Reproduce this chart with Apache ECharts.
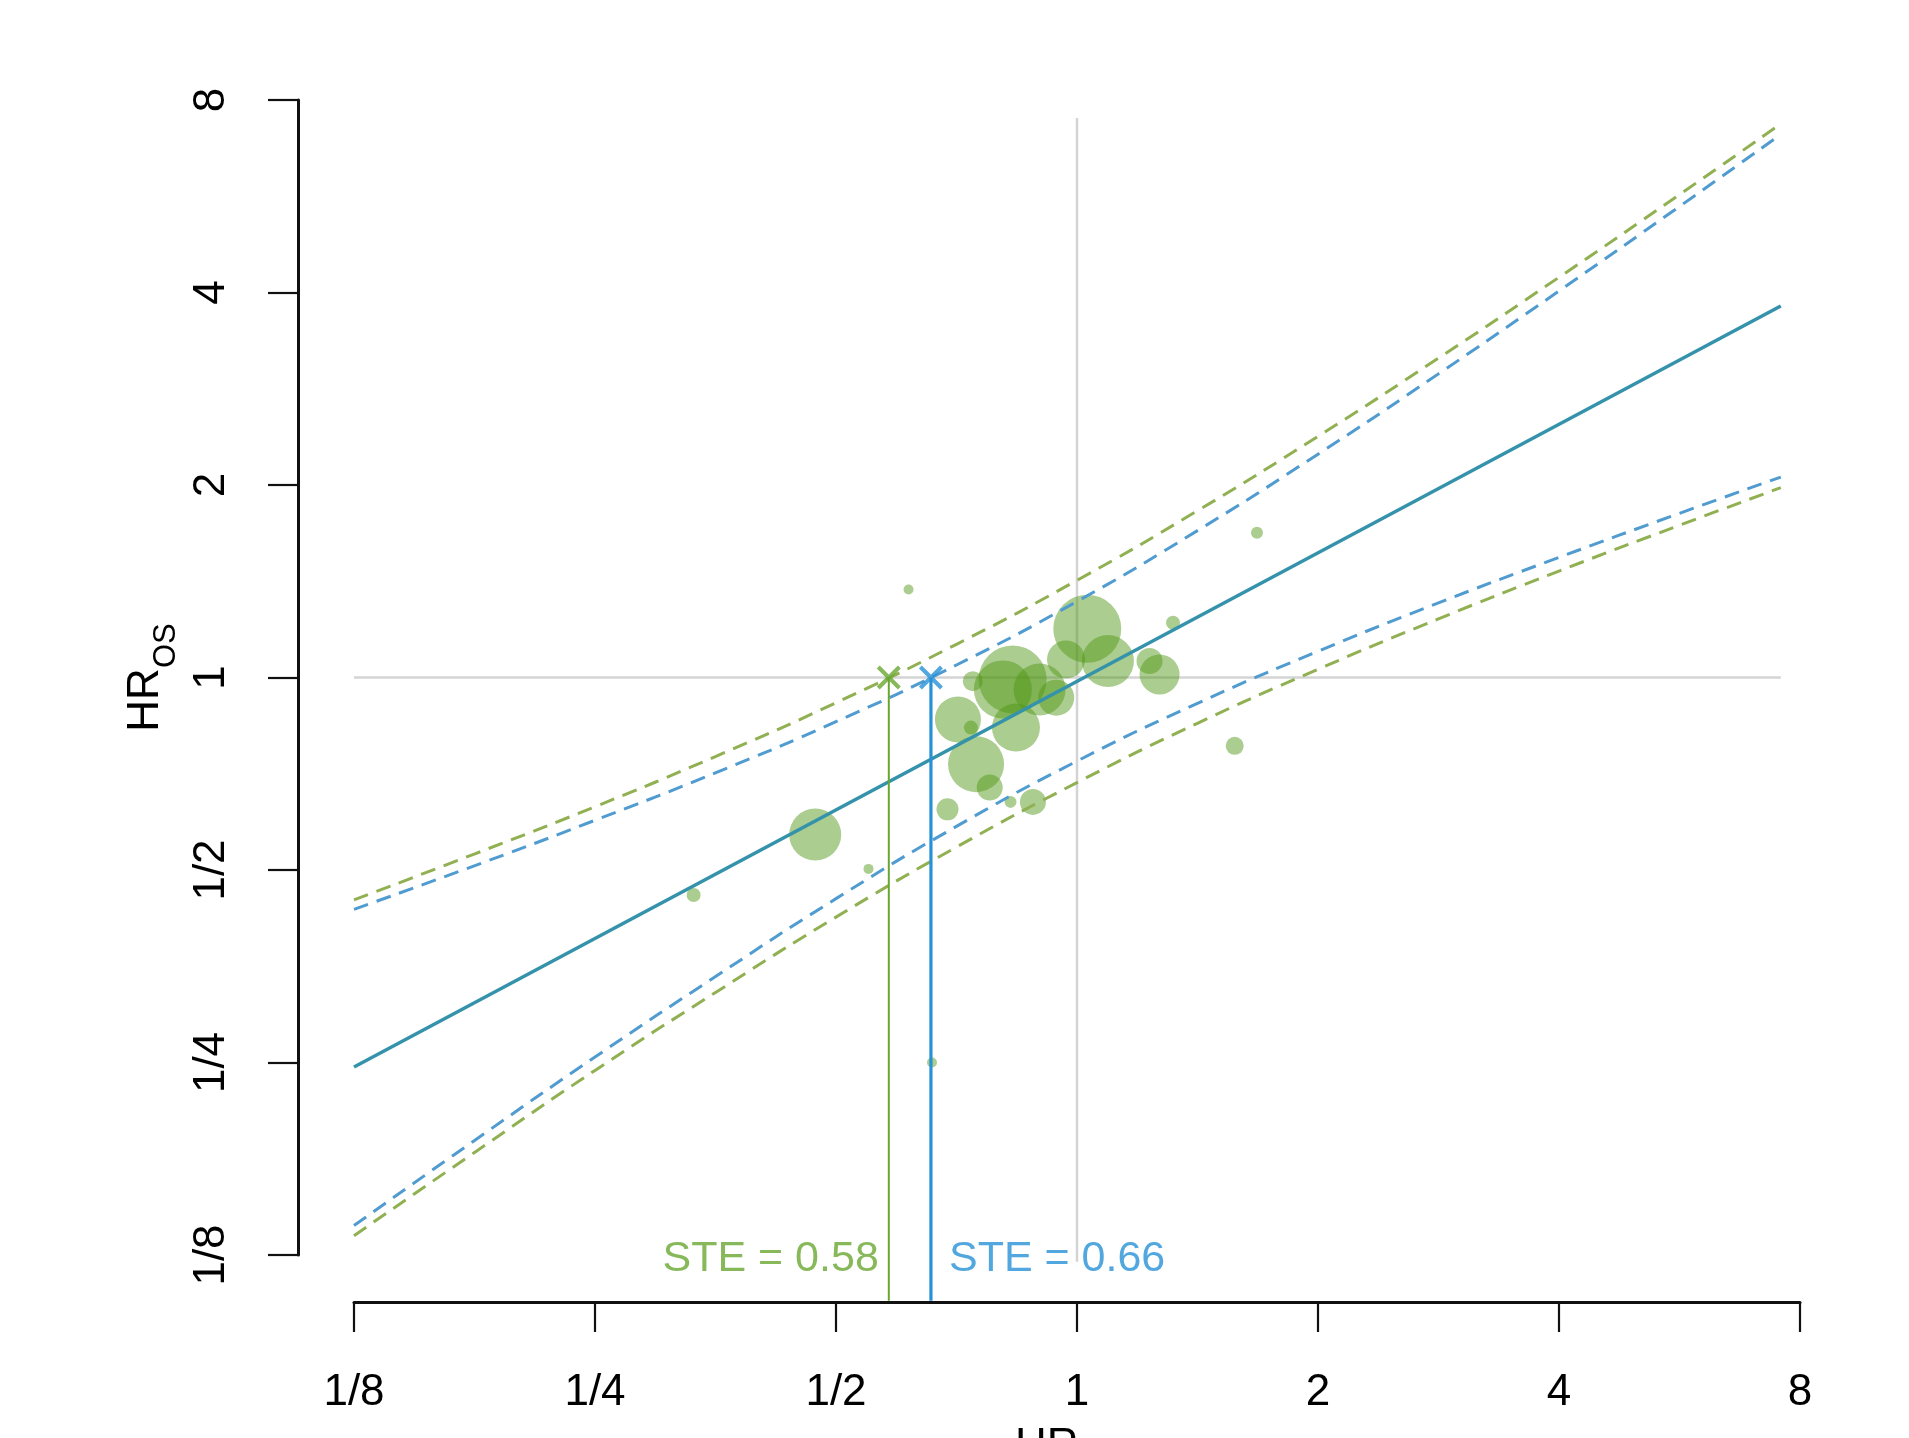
<!DOCTYPE html>
<html><head><meta charset="utf-8">
<script src="https://cdn.jsdelivr.net/npm/echarts@6/dist/echarts.min.js"></script>
<style>html,body{margin:0;padding:0;background:#fff}#c{width:1909px;height:1438px}</style>
</head><body><div id="c"></div>
<script>
// ---- data ----
const tickValues = [0.125, 0.25, 0.5, 1, 2, 4, 8];
const tickLabels = ['1/8', '1/4', '1/2', '1', '2', '4', '8'];

// individual studies (HR_PFS, HR_OS, relative weight ~ bubble radius)
const studyHRPFS = [0.616, 1.030, 1.093, 0.831, 0.808, 0.898, 0.942, 0.969, 0.839, 0.710, 0.737, 0.748, 0.778, 0.689, 0.826, 0.881, 0.741, 1.232, 1.268, 1.318, 0.471, 0.549, 1.678, 1.574, 0.659, 0.332];
const studyHROS  = [1.373, 1.192, 1.061, 0.993, 0.958, 0.958, 0.930, 1.067, 0.835, 0.860, 0.835, 0.732, 0.673, 0.622, 0.639, 0.639, 0.987, 1.061, 1.011, 1.218, 0.568, 0.502, 1.684, 0.782, 0.250, 0.457];
const studyWeight = [5, 34, 26, 34, 29, 26, 18, 19, 24, 23, 7, 28, 13, 11, 6, 13, 10, 13, 20, 7, 26, 5, 6, 9, 5, 7];

// regression line
const fitX = [0.125, 7.57];
const fitY = [0.246, 3.81];

// prediction bands
const bandX = [0.125, 0.177, 0.25, 0.354, 0.5, 0.707, 1, 1.414, 2, 2.828, 4, 5.657, 7.57];
const blueUpper  = [0.434, 0.508, 0.598, 0.710, 0.853, 1.046, 1.315, 1.697, 2.235, 2.984, 4.022, 5.453, 7.067];
const blueLower  = [0.139, 0.189, 0.255, 0.341, 0.451, 0.585, 0.740, 0.911, 1.099, 1.308, 1.541, 1.806, 2.058];
const greenUpper = [0.449, 0.530, 0.628, 0.753, 0.913, 1.127, 1.419, 1.823, 2.383, 3.158, 4.225, 5.692, 7.342];
const greenLower = [0.134, 0.181, 0.243, 0.322, 0.422, 0.543, 0.685, 0.848, 1.030, 1.235, 1.467, 1.730, 1.981];

// surrogate threshold effects
const steX = [0.582, 0.657];
const steLabels = ['STE = 0.58', 'STE = 0.66'];
const steLabelY = 0.123;
const steBottomY = 0.106;

// reference lines at HR = 1
const refXRange = [0.125, 7.57];
const refYRange = [0.122, 7.5];

// ---- chart ----
const FONT = 'Liberation Sans';
const GREEN = '#69a631', BLUE = '#2791d7';
const GREEN_DASH = '#90b052', BLUE_DASH = '#509bd0';

function fmt(v) {
  const i = tickValues.findIndex(t => Math.abs(Math.log2(t) - Math.log2(v)) < 1e-6);
  return i >= 0 ? tickLabels[i] : '';
}
const pairs = (xs, ys) => xs.map((x, i) => [x, ys[i]]);
const dashed = (ys, color) => ({
  type: 'line', data: pairs(bandX, ys), smooth: true, symbol: 'none', clip: false, z: 4,
  lineStyle: { color: color, width: 3, type: [15, 9] }
});
const xMark = 'path://M0,1.2 L1.2,0 L10,8.8 L8.8,10 Z M8.8,0 L10,1.2 L1.2,10 L0,8.8 Z';
const nameRich = {
  h: { fontSize: 44, lineHeight: 58, verticalAlign: 'top', fontFamily: FONT, color: '#000' },
  s: { fontSize: 31, lineHeight: 58, verticalAlign: 'bottom', fontFamily: FONT, color: '#000' }
};

const chart = echarts.init(document.getElementById('c'), null, { renderer: 'canvas' });
chart.setOption({
  animation: false,
  backgroundColor: '#fff',
  grid: { left: 354, right: 109, top: 100, bottom: 183, containLabel: false, outerBoundsMode: 'none' },
  xAxis: {
    type: 'log', logBase: 2, min: 0.125, max: 8, interval: 1, splitNumber: 6,
    offset: 47,
    axisLine: { show: true, lineStyle: { color: '#111', width: 3 } },
    axisTick: { show: true, length: 30, lineStyle: { color: '#111', width: 2.2 } },
    splitLine: { show: false },
    axisLabel: { formatter: fmt, fontFamily: FONT, fontSize: 44, color: '#000', margin: 69 },
    name: '{h|HR}{s|PFS}', nameLocation: 'middle', nameGap: 123,
    nameTextStyle: { color: '#000', fontFamily: FONT, rich: nameRich }
  },
  yAxis: {
    type: 'log', logBase: 2, min: 0.125, max: 8, interval: 1, splitNumber: 6,
    offset: 56,
    axisLine: { show: true, lineStyle: { color: '#111', width: 3 } },
    axisTick: { show: true, length: 30, lineStyle: { color: '#111', width: 2.2 } },
    splitLine: { show: false },
    axisLabel: { formatter: fmt, fontFamily: FONT, fontSize: 44, color: '#000', margin: 64, rotate: 90 },
    name: '{h|HR}{s|OS}', nameLocation: 'middle', nameGap: 106, nameRotate: 90,
    nameTextStyle: { color: '#000', fontFamily: FONT, rich: nameRich }
  },
  series: [
    { type: 'line', data: [[1, refYRange[0]], [1, refYRange[1]]], symbol: 'none', clip: false, z: 1,
      lineStyle: { color: '#d4d4d4', width: 2.5 } },
    { type: 'line', data: [[refXRange[0], 1], [refXRange[1], 1]], symbol: 'none', clip: false, z: 1,
      lineStyle: { color: '#d4d4d4', width: 2.5 } },
    { type: 'scatter', data: studyHRPFS.map((x, i) => [x, studyHROS[i], studyWeight[i]]),
      symbolSize: d => 2 * d[2], clip: false, z: 2,
      itemStyle: { color: 'rgba(80,150,20,0.6)', borderWidth: 0 } },
    dashed(greenUpper, GREEN_DASH),
    dashed(blueUpper, BLUE_DASH),
    dashed(blueLower, BLUE_DASH),
    dashed(greenLower, GREEN_DASH),
    { type: 'line', data: pairs(fitX, fitY), symbol: 'none', clip: false, z: 5,
      lineStyle: { color: '#3592ab', width: 3.5 } },
    { type: 'line', data: [[steX[0], 1], [steX[0], steBottomY]], symbol: 'none', clip: false, z: 6,
      lineStyle: { color: GREEN, width: 2 } },
    { type: 'line', data: [[steX[1], 1], [steX[1], steBottomY]], symbol: 'none', clip: false, z: 6,
      lineStyle: { color: BLUE, width: 3.2 } },
    { type: 'scatter', data: [[steX[0], 1]], symbol: xMark, symbolSize: 24, clip: false, z: 7,
      itemStyle: { color: GREEN } },
    { type: 'scatter', data: [[steX[1], 1]], symbol: xMark, symbolSize: 24, clip: false, z: 7,
      itemStyle: { color: BLUE } },
    { type: 'scatter', data: [[steX[0], steLabelY]], symbolSize: 0, clip: false, z: 7,
      label: { show: true, position: 'left', distance: 10, formatter: steLabels[0],
               color: GREEN, fontFamily: FONT, fontSize: 43 } },
    { type: 'scatter', data: [[steX[1], steLabelY]], symbolSize: 0, clip: false, z: 7,
      label: { show: true, position: 'right', distance: 18, formatter: steLabels[1],
               color: BLUE, fontFamily: FONT, fontSize: 43 } }
  ]
});
</script>
</body></html>
